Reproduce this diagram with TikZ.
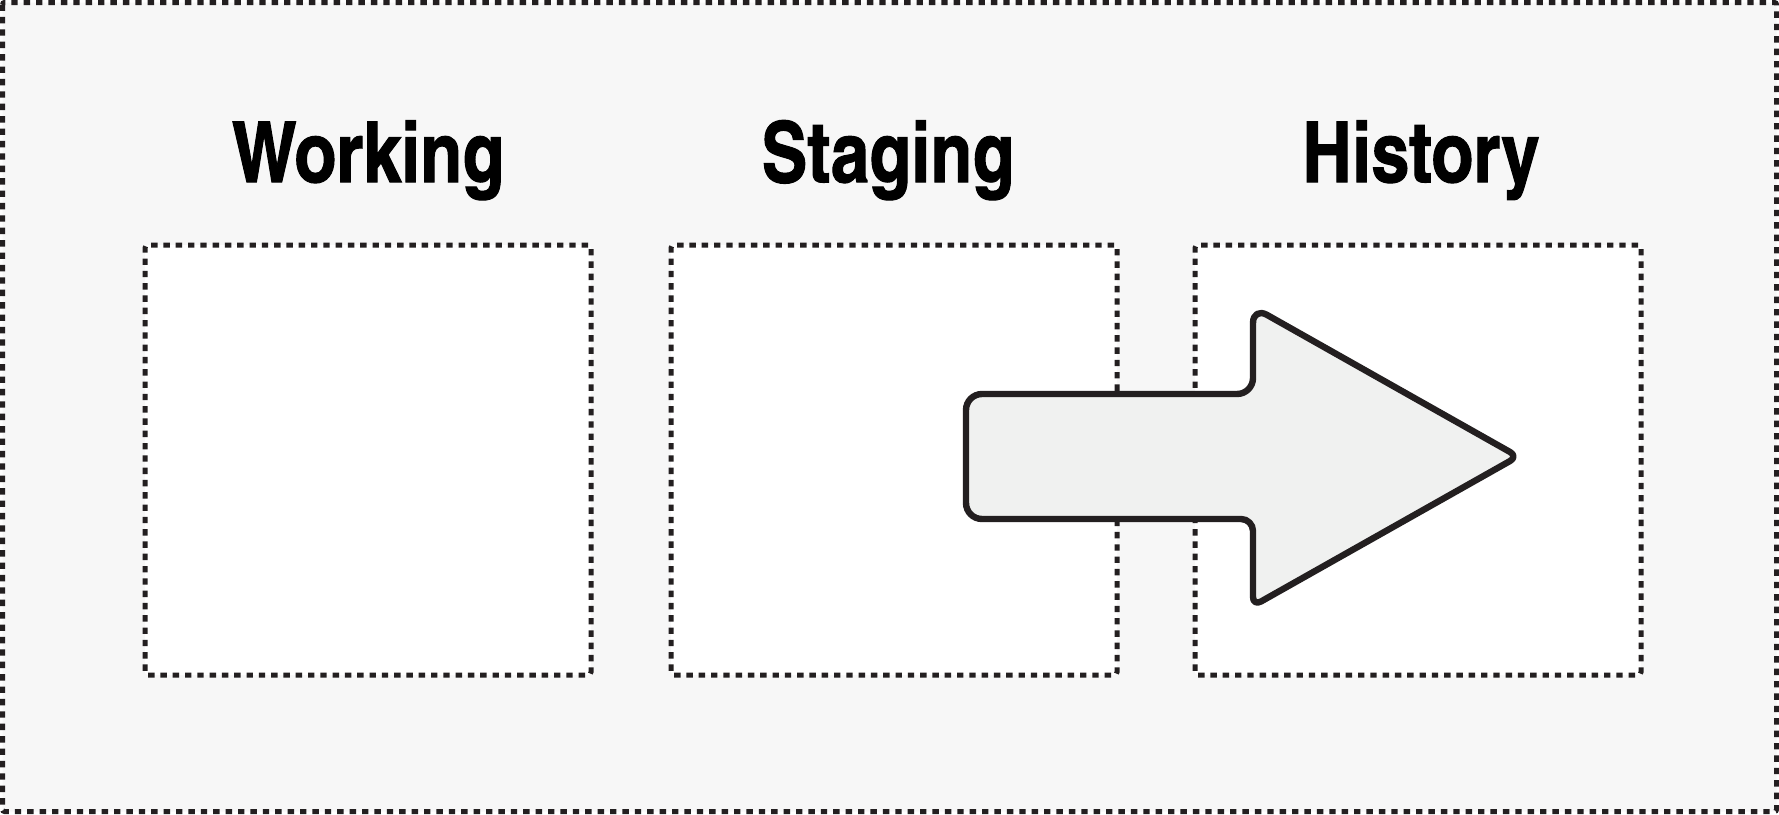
\documentclass[tikz,border=0pt]{standalone}
\usepackage{fontspec}
\newfontfamily\titlefont{texgyreheroscn-bold.otf}[FakeBold=1.2]
\definecolor{linegray}{HTML}{231F20}
\definecolor{panelbg}{HTML}{F7F7F7}
\definecolor{arrowfill}{HTML}{F0F1F0}
\begin{document}
\begin{tikzpicture}[x=1pt,y=-1pt,
  outerframe/.style={draw=linegray,fill=panelbg,line width=5pt,dash pattern=on 6.4pt off 6pt,rounded corners=2pt},
  areabox/.style={draw=linegray,fill=white,line width=5pt,dash pattern=on 6.4pt off 5.9pt,rounded corners=3pt},
  areatitle/.style={font=\titlefont\fontsize{84}{92}\selectfont,text=black,anchor=base,inner sep=0pt},
  bigarrow/.style={draw=linegray,fill=arrowfill,line width=6.4pt,line join=round}]
\useasboundingbox (0,0) rectangle (1779,814);
\draw[outerframe] (2.5,2.5) rectangle (1776.5,811.5);
\node[areabox,minimum width=446pt,minimum height=430pt,inner sep=0pt] (working) at (368,460) {};
\node[areabox,minimum width=446pt,minimum height=430pt,inner sep=0pt] (staging) at (894,460) {};
\node[areabox,minimum width=446pt,minimum height=430pt,inner sep=0pt] (history) at (1418,460) {};
\node[areatitle] (tworking) at (368,182) {Working};
\node[areatitle] (tstaging) at (888,182) {Staging};
\node[areatitle] (thistory) at (1421,182) {History};
\draw[bigarrow] (1100,394) [rounded corners=16pt] -- (1253,394) -- (1253,307) [rounded corners=9pt] -- (1518,456.5) -- (1253,606) [rounded corners=12pt] -- (1253,519) [rounded corners=16pt] -- (966,519) -- (966,394) -- cycle;
\end{tikzpicture}
\end{document}
